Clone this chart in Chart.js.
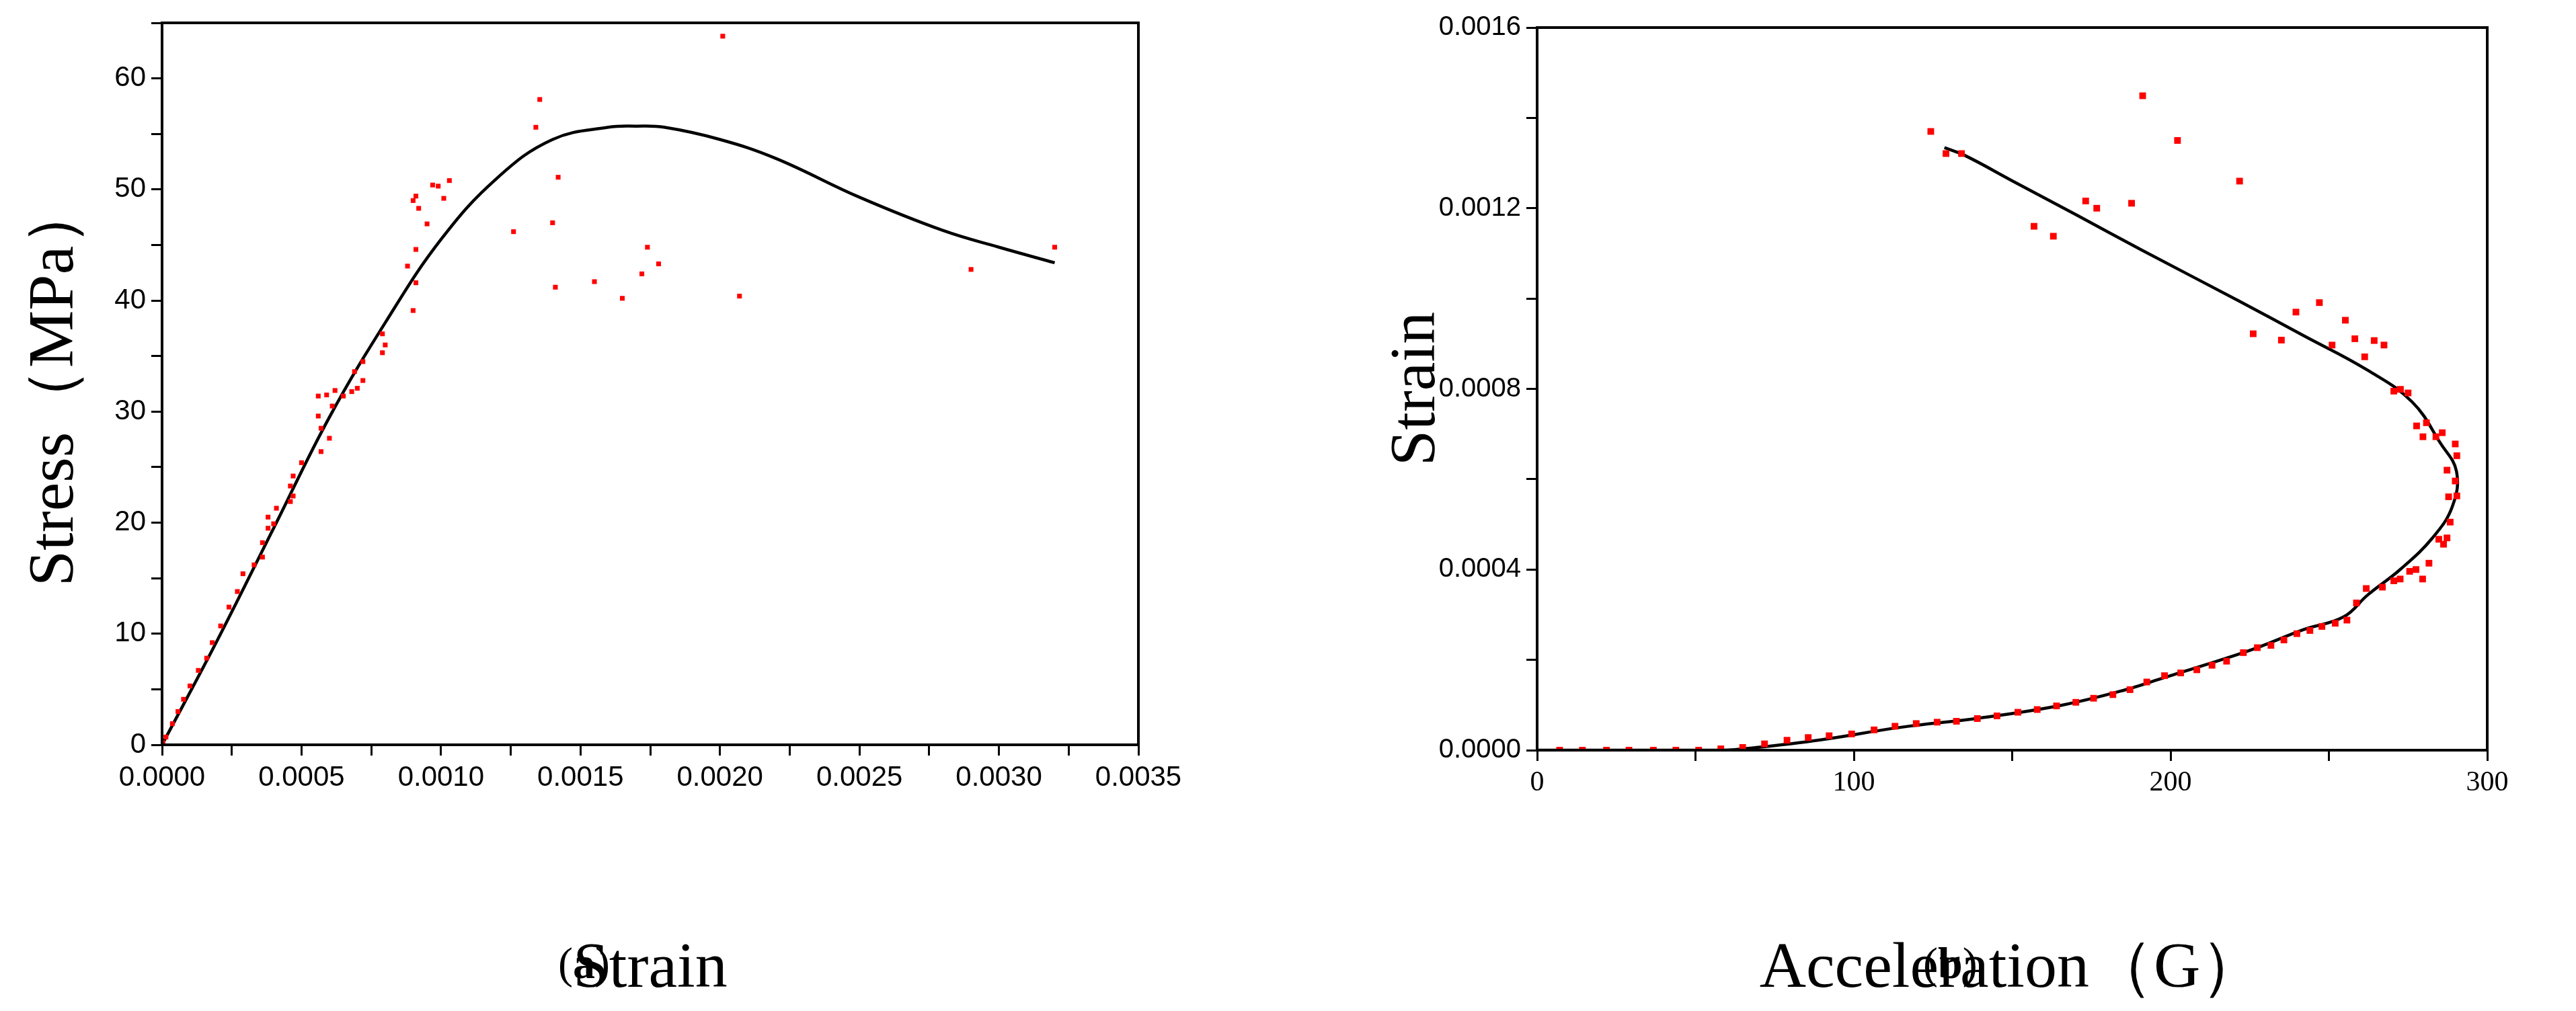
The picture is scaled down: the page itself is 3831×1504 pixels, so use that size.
<!DOCTYPE html>
<html>
<head>
<meta charset="utf-8">
<script src="https://cdn.jsdelivr.net/npm/chart.js@4.4.1/dist/chart.umd.min.js"></script>
<style>
  body { margin: 0; background: #fff; width: 3831px; height: 1504px; position: relative; overflow: hidden; }
  .wrap { position: absolute; }
  .cap { position: absolute; font-family: "Liberation Serif", serif; font-size: 66px; color: #000; }
</style>
</head>
<body>
<div class="wrap" style="left:0;top:0;width:1800px;height:1504px"><canvas id="chartA"></canvas></div>
<div class="wrap" style="left:1900px;top:0;width:1931px;height:1504px"><canvas id="chartB"></canvas></div>
<div class="cap" style="left:830px;top:1395px">(<b>a</b>)</div>
<div class="cap" style="left:2860px;top:1395px">(<b>b</b>)</div>
<script>
// (a) stress-strain
var aCurveX = [0, 0.0002, 0.0004, 0.0006, 0.0008, 0.0010, 0.0012, 0.0014, 0.0016, 0.0017, 0.0018, 0.0020, 0.0022, 0.0025, 0.0028, 0.0030, 0.0032];
var aCurveY = [0, 9.5, 19.5, 29.5, 38, 45.5, 51, 54.5, 55.6, 55.7, 55.6, 54.5, 52.8, 49.3, 46.3, 44.8, 43.4];
var aPtsX = [0.001354, 0.00134, 0.00201, 0.00142, 0.00103, 0.00097, 0.00099, 0.00101, 0.0009, 0.00091, 0.00092, 0.00095,
  0.00126, 0.0014, 0.00174, 0.0032, 0.00178, 0.00172, 0.00155, 0.00141, 0.00165, 0.00207, 0.0029,
  0.00088, 0.00091, 0.00091, 0.0009, 0.00079, 0.0008, 0.00079,
  0.00072, 0.00069, 0.00072, 0.0007, 0.00068, 0.00065, 0.00062, 0.00059, 0.00056, 0.00061, 0.00056, 0.00057, 0.0006, 0.00057,
  0.0005, 0.00047, 0.00046, 0.00047, 0.00046, 0.00041, 0.00038, 0.0004, 0.00038,
  0.00036, 0.00036, 0.00033, 0.00029, 0.00027, 0.00024, 0.00021, 0.00018, 0.00016, 0.00013, 0.0001, 0.000077, 0.000057, 0.000037, 0.000014, 0.000003];
var aPtsY = [58.1, 55.6, 63.8, 51.1, 50.8, 50.4, 50.3, 49.2, 49.0, 49.4, 48.3, 46.9,
  46.2, 47.0, 44.8, 44.8, 43.3, 42.4, 41.7, 41.2, 40.2, 40.4, 42.8,
  43.1, 44.6, 41.6, 39.1, 37.0, 36.0, 35.3,
  34.5, 33.6, 32.8, 32.1, 31.8, 31.4, 31.9, 31.5, 31.4, 30.5, 29.6, 28.5, 27.6, 26.4,
  25.4, 24.2, 23.3, 22.4, 21.9, 21.3, 20.5, 19.9, 19.5,
  18.2, 16.9, 16.2, 15.4, 13.8, 12.4, 10.7, 9.2, 7.8, 6.7, 5.3, 4.1, 3.0, 1.9, 0.7, 0.2];

// (b) strain-acceleration
var bCurveX = [128.6, 135, 150.2, 170.6, 191, 221.5, 242, 262.3, 276.3, 285.2, 290.3, 289, 282.7, 272.5, 262.3, 254.6, 242, 226.6, 211.4, 198.6, 185.9, 165.5, 140, 114.6, 89, 68.8, 58.6, 0];
var bCurveY = [0.001334, 0.001317, 0.00126, 0.001184, 0.001107, 0.000995, 0.000918, 0.000841, 0.000771, 0.00068, 0.000617, 0.00054, 0.00047, 0.0004, 0.000344, 0.000295, 0.000267, 0.000225, 0.00019, 0.000162, 0.000134, 0.0000994, 0.0000714, 0.0000504, 0.0000224, 0.0000056, 0, 0];
var bPtsX = [124.3, 129.1, 134, 191.2, 202.2, 221.8, 173.2, 176.7, 187.7, 156.9, 163, 226.1, 235, 239.6, 247, 251, 255.2, 258.2, 261.3, 264.3, 267.4,
  270.5, 272.6, 275, 277.7, 279.7, 280.8, 283.8, 285.8, 289.9, 290.4, 287.3, 289.9, 287.8, 290.4, 288.3, 287.3, 284.7, 286.2, 281.6, 277.5, 275.5, 279.6, 272.5, 270.5, 266.9, 261.8,
  258.7, 255.7, 252, 247.8, 244, 239.9, 235.8, 231.7, 227.4, 223, 217.7, 213.1, 208.3, 203.2, 198.1, 192.5, 187.2, 181.8, 175.7, 170.1, 164, 157.9, 151.8, 145.2, 139, 132.4, 126.3,
  119.7, 113, 106.4, 99.3, 92.2, 85.6, 78.9, 71.8, 64.9, 58, 51, 43.8, 36.7, 29, 21.9, 14.3, 7.1];
var bPtsY = [0.00137, 0.001321, 0.001321, 0.001449, 0.00135, 0.00126, 0.001216, 0.0012, 0.001211, 0.00116, 0.001138, 0.000922, 0.000908, 0.00097, 0.000991, 0.000897, 0.000952, 0.000911, 0.000871, 0.000907, 0.000897,
  0.000795, 0.000799, 0.000791, 0.000718, 0.000694, 0.000725, 0.000694, 0.000703, 0.000678, 0.000652, 0.00062, 0.000596, 0.000561, 0.000563, 0.000505, 0.00047, 0.000467, 0.000456, 0.000414, 0.0004, 0.000396, 0.000379, 0.000379, 0.000375, 0.000361, 0.000358,
  0.000326, 0.000288, 0.000281, 0.000274, 0.000265, 0.000258, 0.000244, 0.000232, 0.000227, 0.000216, 0.000197, 0.000188, 0.000178, 0.000171, 0.000165, 0.000151, 0.000134, 0.000123, 0.000115, 0.000106, 0.000098, 0.00009, 0.000084, 0.000076, 0.00007, 0.000064, 0.000062,
  0.000059, 0.000053, 0.000045, 0.000036, 0.000032, 0.000028, 0.000022, 0.000014, 0.000006, 0.000003, 0, 0, 0, 0, 0, 0, 0];

function pairs(xs, ys) {
  return xs.map(function (x, i) { return { x: x, y: ys[i] }; });
}

var boxPlugin = {
  id: 'box',
  afterDraw: function (chart) {
    var a = chart.chartArea, c = chart.ctx;
    c.save();
    c.strokeStyle = '#000';
    c.lineWidth = 4;
    c.strokeRect(a.left, a.top, a.right - a.left, a.bottom - a.top);
    c.restore();
  }
};

function makeChart(id, curve, pts, o) {
  return new Chart(document.getElementById(id), {
    type: 'scatter',
    data: {
      datasets: [{
        data: pts,
        pointStyle: 'rect',
        pointRadius: o.ptR,
        backgroundColor: '#ff0000',
        borderWidth: 0,
        showLine: false
      }, {
        data: curve,
        showLine: true,
        borderColor: '#000',
        borderWidth: 4.5,
        pointRadius: 0,
        tension: 0.4,
        fill: false
      }]
    },
    options: {
      responsive: true,
      maintainAspectRatio: false,
      animation: false,
      layout: { padding: { top: o.top, right: o.right, left: 0, bottom: 0 } },
      plugins: { legend: { display: false }, tooltip: { enabled: false } },
      scales: {
        x: {
          type: 'linear', min: o.xMin, max: o.xMax,
          afterFit: function (s) { s.height = o.xH; },
          border: { color: '#000', width: 4 },
          grid: { drawOnChartArea: false, color: '#000', lineWidth: 3, tickLength: 16 },
          ticks: {
            stepSize: o.xStep, autoSkip: false, maxRotation: 0, color: '#000',
            font: o.xTickFont, padding: 8,
            callback: function (v, i) { return i % 2 === 0 ? o.xFmt(v) : ''; }
          },
          title: { display: true, text: o.xTitle, color: '#000',
            font: { family: 'Liberation Serif', size: 96 }, padding: { top: o.xTitlePad } }
        },
        y: {
          type: 'linear', min: 0, max: o.yMax,
          afterFit: function (s) { s.width = o.yW; },
          border: { color: '#000', width: 4 },
          grid: { drawOnChartArea: false, color: '#000', lineWidth: 3, tickLength: 16 },
          ticks: {
            stepSize: o.yStep, autoSkip: false, color: '#000',
            font: o.yTickFont, padding: 8,
            callback: function (v, i) { return i % 2 === 0 ? o.yFmt(v) : ''; }
          },
          title: { display: true, text: o.yTitle, color: '#000',
            font: { family: 'Liberation Serif', size: 96 }, padding: { top: o.yTitlePad, bottom: 0 } }
        }
      }
    },
    plugins: [boxPlugin]
  });
}

var sansTick = { family: 'Liberation Sans', size: 42 };

makeChart('chartA', pairs(aCurveX, aCurveY), pairs(aPtsX, aPtsY), {
  ptR: 5, top: 34, right: 107, xH: 396, yW: 241,
  xMin: 0, xMax: 0.0035, xStep: 0.00025, yMax: 65, yStep: 5,
  xTickFont: sansTick, yTickFont: sansTick,
  xFmt: function (v) { return v.toFixed(4); },
  yFmt: function (v) { return String(Math.round(v)); },
  xTitle: 'Strain', yTitle: 'Stress（MPa）', xTitlePad: 150, yTitlePad: 25
});

makeChart('chartB', pairs(bCurveX, bCurveY), pairs(bPtsX, bPtsY), {
  ptR: 7, top: 41, right: 132, xH: 388, yW: 386,
  xMin: 0, xMax: 300, xStep: 50, yMax: 0.0016, yStep: 0.0002,
  xTickFont: { family: 'Liberation Serif', size: 42 },
  yTickFont: { family: 'Liberation Sans Narrow, Liberation Sans', size: 40 },
  xFmt: function (v) { return String(Math.round(v)); },
  yFmt: function (v) { return v.toFixed(4); },
  xTitle: 'Acceleration（G）', yTitle: 'Strain', xTitlePad: 145, yTitlePad: 150
});
</script>
</body>
</html>
